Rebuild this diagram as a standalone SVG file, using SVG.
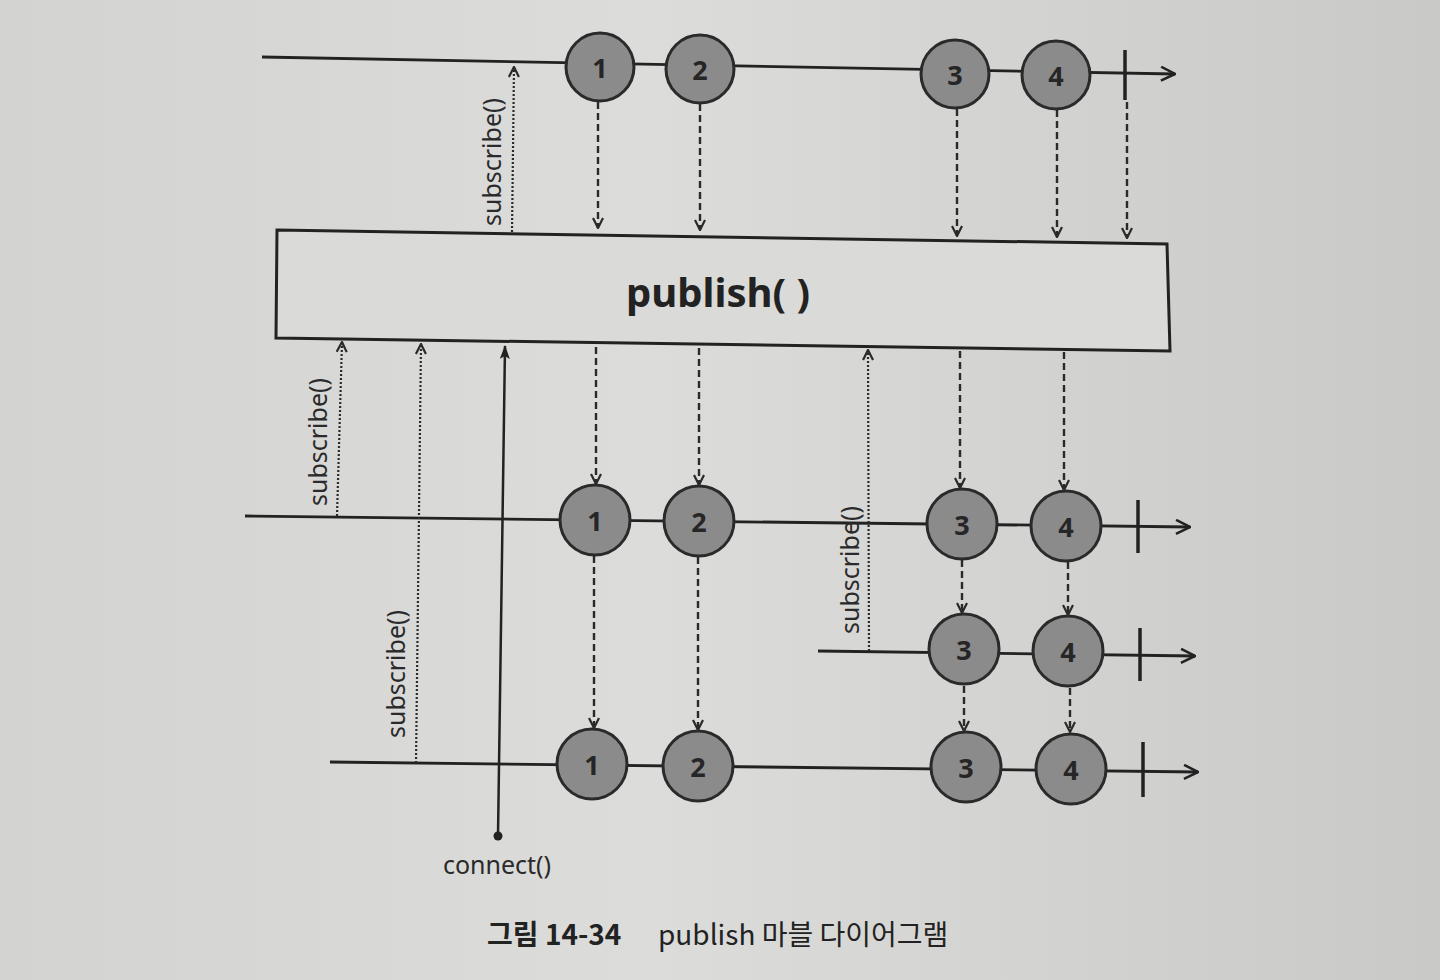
<svg xmlns="http://www.w3.org/2000/svg" width="1440" height="980" viewBox="0 0 1440 980">
<defs>
<linearGradient id="bg" x1="0" y1="0" x2="1" y2="0">
<stop offset="0" stop-color="#d3d3d1"/>
<stop offset="0.45" stop-color="#dcdcda"/>
<stop offset="1" stop-color="#c9c9c7"/>
</linearGradient>
<marker id="chev" viewBox="0 0 12 12" refX="11" refY="6" markerWidth="12" markerHeight="12" markerUnits="userSpaceOnUse" orient="auto">
<path d="M1,1 L11,6 L1,11" fill="none" stroke="#2a2a2a" stroke-width="2.2"/>
</marker>
<marker id="bigchev" viewBox="0 0 16 16" refX="15" refY="8" markerWidth="16" markerHeight="16" markerUnits="userSpaceOnUse" orient="auto">
<path d="M1,1 L15,8 L1,15" fill="none" stroke="#222" stroke-width="2.5"/>
</marker>
<marker id="tri" viewBox="0 0 14 10" refX="13" refY="5" markerWidth="14" markerHeight="10" markerUnits="userSpaceOnUse" orient="auto">
<path d="M0,0 L14,5 L0,10 L3,5 Z" fill="#222"/>
</marker>
<style>
.tl{stroke:#222;stroke-width:2.8;fill:none}
.term{stroke:#222;stroke-width:3.5}
.dash{stroke:#2a2a2a;stroke-width:2.4;stroke-dasharray:7 4;fill:none;marker-end:url(#chev)}
.dot{stroke:#2a2a2a;stroke-width:2.2;stroke-dasharray:2 2;fill:none;marker-end:url(#chev)}
.m circle{fill:#8b8b8b;stroke:#2a2a2a;stroke-width:3}
.m text{font-family:"Noto Sans","DejaVu Sans",sans-serif;font-weight:bold;font-size:27px;fill:#262626;text-anchor:middle;dominant-baseline:central}
.lbl{font-family:"Noto Sans","DejaVu Sans",sans-serif;font-size:25px;fill:#2a2a2a}
</style>
</defs>
<rect x="0" y="0" width="1440" height="980" fill="url(#bg)"/>

<g id="connectors">
<line class="tl" x1="262" y1="57" x2="1175" y2="74" marker-end="url(#bigchev)"/>
<line class="tl" x1="245" y1="516" x2="1190" y2="527" marker-end="url(#bigchev)"/>
<line class="tl" x1="818" y1="651" x2="1195" y2="656" marker-end="url(#bigchev)"/>
<line class="tl" x1="330" y1="762" x2="1198" y2="772" marker-end="url(#bigchev)"/>
<line class="term" x1="1125" y1="50" x2="1125" y2="100"/>
<line class="term" x1="1138" y1="500" x2="1138" y2="553"/>
<line class="term" x1="1140" y1="628" x2="1140" y2="681"/>
<line class="term" x1="1143" y1="742" x2="1143" y2="797"/>
<line class="dash" x1="598" y1="102" x2="598" y2="228"/>
<line class="dash" x1="700" y1="104" x2="700" y2="230"/>
<line class="dash" x1="957" y1="109" x2="957" y2="236"/>
<line class="dash" x1="1057" y1="110" x2="1057" y2="237"/>
<line class="dash" x1="1127" y1="102" x2="1127" y2="238"/>
<line class="dash" x1="596" y1="347" x2="596" y2="484"/>
<line class="dash" x1="699" y1="348" x2="699" y2="485"/>
<line class="dash" x1="960" y1="351" x2="960" y2="488"/>
<line class="dash" x1="1064" y1="352" x2="1064" y2="490"/>
<line class="dash" x1="962" y1="560" x2="962" y2="613"/>
<line class="dash" x1="1068" y1="562" x2="1068" y2="615"/>
<line class="dash" x1="594" y1="556" x2="594" y2="728"/>
<line class="dash" x1="698" y1="557" x2="698" y2="730"/>
<line class="dash" x1="964" y1="686" x2="964" y2="731"/>
<line class="dash" x1="1070" y1="688" x2="1070" y2="732"/>
<line class="dot" x1="512" y1="232" x2="514" y2="67"/>
<line class="dot" x1="337" y1="516" x2="342" y2="342"/>
<line class="dot" x1="416" y1="763" x2="421" y2="344"/>
<line class="dot" x1="869" y1="651" x2="868" y2="350"/>
<line x1="498" y1="836" x2="505" y2="346" stroke="#222" stroke-width="2.5" marker-end="url(#tri)"/>
<circle cx="498" cy="836" r="4.5" fill="#222"/>
</g>

<g id="publish">
<polygon points="277,230 1167,244 1170,351 276,338" fill="#dadad8" stroke="#222" stroke-width="3"/>
<text x="718" y="307" font-family="Noto Sans, DejaVu Sans, sans-serif" font-weight="bold" font-size="40" fill="#222" text-anchor="middle">publish( )</text>
</g>

<g id="source" class="m">
<circle cx="600" cy="67" r="34"/><text x="600" y="67">1</text>
<circle cx="700" cy="69" r="34"/><text x="700" y="69">2</text>
<circle cx="955" cy="74" r="34"/><text x="955" y="74">3</text>
<circle cx="1056" cy="75" r="34"/><text x="1056" y="75">4</text>
</g>

<g id="subscriber1" class="m">
<circle cx="595" cy="520" r="35"/><text x="595" y="520">1</text>
<circle cx="699" cy="521" r="35"/><text x="699" y="521">2</text>
<circle cx="962" cy="524" r="35"/><text x="962" y="524">3</text>
<circle cx="1066" cy="526" r="35"/><text x="1066" y="526">4</text>
</g>

<g id="subscriber2" class="m">
<circle cx="964" cy="649" r="35"/><text x="964" y="649">3</text>
<circle cx="1068" cy="651" r="35"/><text x="1068" y="651">4</text>
</g>

<g id="subscriber3" class="m">
<circle cx="592" cy="764" r="35"/><text x="592" y="764">1</text>
<circle cx="698" cy="766" r="35"/><text x="698" y="766">2</text>
<circle cx="966" cy="767" r="35"/><text x="966" y="767">3</text>
<circle cx="1071" cy="769" r="35"/><text x="1071" y="769">4</text>
</g>

<g id="labels">
<text class="lbl" transform="translate(501,162) rotate(-90)" text-anchor="middle">subscribe()</text>
<text class="lbl" transform="translate(327,442) rotate(-90)" text-anchor="middle">subscribe()</text>
<text class="lbl" transform="translate(405,674) rotate(-90)" text-anchor="middle">subscribe()</text>
<text class="lbl" transform="translate(859,570) rotate(-90)" text-anchor="middle">subscribe()</text>
<text class="lbl" x="497" y="874" text-anchor="middle" font-size="28">connect()</text>
</g>

<g id="caption">
<text x="487" y="945" font-family="Noto Sans CJK KR, Noto Sans, sans-serif" font-size="28" fill="#222"><tspan font-weight="bold">그림 14-34</tspan><tspan x="658">publish 마블 다이어그램</tspan></text>
</g>
</svg>
